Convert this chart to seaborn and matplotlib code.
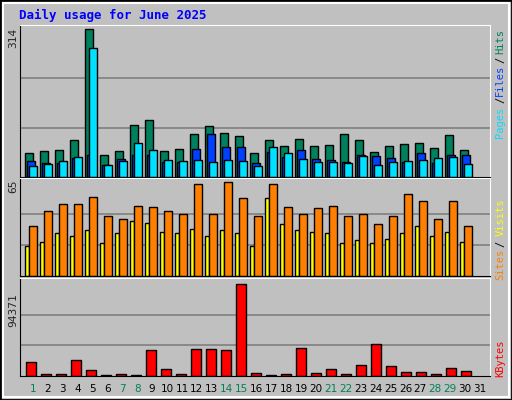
import numpy as np
import seaborn as sns
import matplotlib
matplotlib.use('Agg')
import matplotlib.pyplot as plt
from matplotlib.patches import Rectangle

days = list(range(1, 32))
weekend_days = [1, 7, 8, 14, 15, 21, 22, 28, 29]

hits = [51, 56, 58, 79, 313, 47, 56, 111, 120, 56, 60, 92, 109, 94, 88,
        51, 79, 66, 81, 66, 68, 92, 79, 54, 66, 71, 73, 62, 90, 58, 0]
files = [34, 30, 30, 41, 47, 26, 39, 47, 47, 32, 32, 60, 92, 64, 64,
         30, 54, 43, 58, 39, 37, 32, 47, 45, 41, 32, 51, 30, 47, 47, 0]
pages = [24, 28, 34, 43, 273, 26, 34, 73, 58, 37, 34, 37, 32, 37, 34,
         24, 64, 51, 39, 32, 32, 30, 45, 26, 32, 34, 37, 41, 43, 28, 0]
visits = [35, 45, 50, 50, 55, 42, 40, 49, 48, 45, 43, 64, 43, 65, 54,
          42, 64, 48, 43, 47, 49, 42, 43, 36, 42, 57, 52, 40, 52, 35, 0]
sites = [21, 24, 30, 28, 32, 23, 30, 38, 37, 31, 30, 33, 28, 32, 30,
         21, 54, 36, 32, 31, 30, 23, 25, 23, 26, 30, 35, 28, 31, 24, 0]
kbytes = [14810, 2411, 2411, 16876, 6544, 1378, 2411, 1378, 26175, 7577,
          2411, 27208, 27208, 26175, 94371, 3444, 1378, 2411, 28241, 3444,
          7577, 2411, 11710, 32374, 10676, 4477, 4477, 2411, 8610, 5510, 0]

sns.set_style('white')
plt.rcParams['font.family'] = ['DejaVu Sans Mono', 'DejaVu Sans']

GREY = '#C0C0C0'
fig = plt.figure(figsize=(5.12, 4.0), dpi=100, facecolor=GREY)
fig.patches.append(Rectangle((0, 0), 1, 1, transform=fig.transFigure, fill=False,
                             edgecolor='black', lw=2))
fig.patches.append(Rectangle((0.006, 0.008), 0.988, 0.984, transform=fig.transFigure,
                             fill=False, edgecolor='white', lw=1.5))
fig.text(0.037, 0.962, 'Daily usage for June 2025', color='#0000FF', fontsize=9,
         fontweight='bold', va='center', family='DejaVu Sans Mono')

x0 = np.arange(31)


def panel(rect, top):
    ax = fig.add_axes(rect)
    ax.set_facecolor(GREY)
    ax.set_xlim(0, 31.33)
    ax.set_ylim(0, top)
    for s in ['left', 'bottom']:
        ax.spines[s].set_color('black')
    for s in ['top', 'right']:
        ax.spines[s].set_color('white')
    ax.set_xticks([])
    ax.set_yticks([])
    return ax


def grid(ax, mx):
    for g in (mx / 3, mx * 2 / 3):
        ax.axhline(g, color='#808080', lw=1.2, zorder=0)


def bars(ax, off, w, vals, color):
    v = np.array(vals, dtype=float)
    m = v > 0
    ax.bar(x0[m] + off, v[m], width=w, align='edge', color=color,
           edgecolor='black', lw=1, zorder=2)


# top panel
ax1 = panel([0.039, 0.5575, 0.918, 0.38], 314 * 1.027)
grid(ax1, 314)
bars(ax1, 0.33, 0.53, hits, '#00805C')
bars(ax1, 0.47, 0.53, files, '#0040FF')
bars(ax1, 0.6, 0.53, pages, '#00E0FF')
fig.text(0.025, 0.905, '314', rotation=90, fontsize=8, ha='center', va='center')

# middle panel
ax2 = panel([0.039, 0.309, 0.918, 0.246], 65 * 1.047)
grid(ax2, 65)
bars(ax2, 0.33, 0.27, sites, '#FFFF00')
bars(ax2, 0.6, 0.53, visits, '#FF8000')
fig.text(0.025, 0.535, '65', rotation=90, fontsize=8, ha='center', va='center')

# bottom panel
ax3 = panel([0.039, 0.06, 0.918, 0.246], 94371 * 1.069)
grid(ax3, 94371)
bars(ax3, 0.4, 0.67, kbytes, '#FF0000')
fig.text(0.025, 0.225, '94371', rotation=90, fontsize=8, ha='center', va='center')

# right side legends
for y, t, c in [(0.695, 'Pages', '#00E0FF'), (0.75, '/', '#000000'),
                (0.80, 'Files', '#0040FF'), (0.85, '/', '#000000'),
                (0.897, 'Hits', '#00805C'),
                (0.338, 'Sites', '#FF8000'), (0.39, '/', '#000000'),
                (0.457, 'Visits', '#FFFF00'),
                (0.105, 'KBytes', '#FF0000')]:
    fig.text(0.977, y, t, color=c, rotation=90, fontsize=7.5, ha='center', va='center')

# day labels
for d in days:
    xx = 0.039 + ((d - 1) * 14.9 + 13) / 512
    col = '#00805C' if d in weekend_days else 'black'
    fig.text(xx, 0.028, str(d), color=col, fontsize=7.5, ha='center', va='center',
             family='DejaVu Sans')

fig.savefig('out.png', dpi=100, facecolor=GREY)
